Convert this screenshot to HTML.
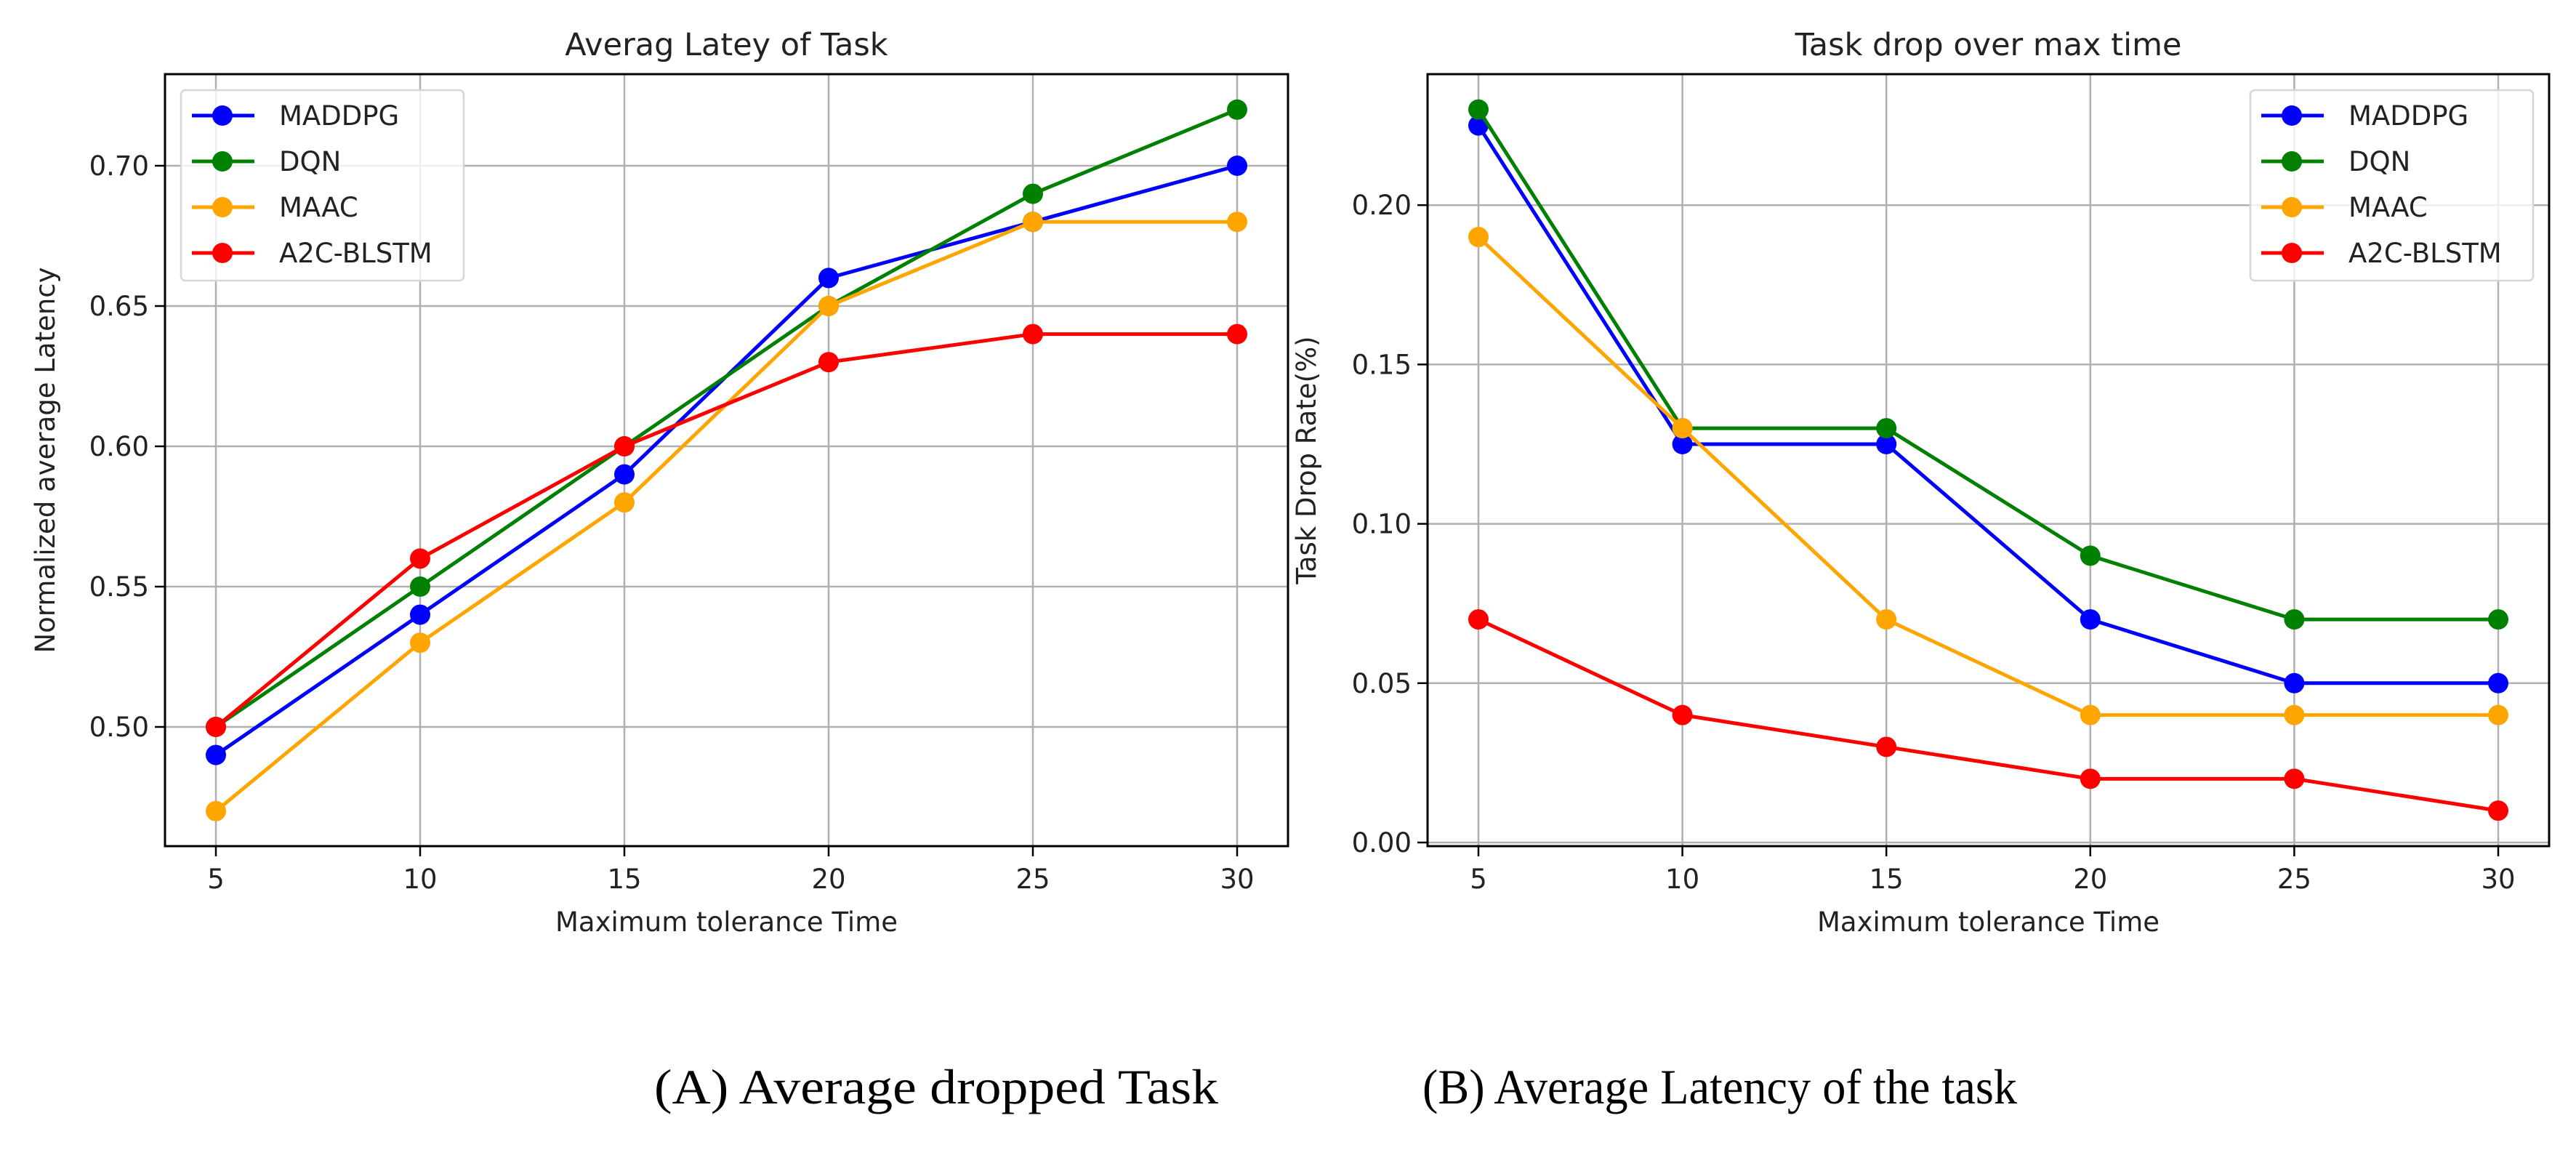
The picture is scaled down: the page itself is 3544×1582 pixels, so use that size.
<!DOCTYPE html>
<html><head><meta charset="utf-8"><style>
html,body{margin:0;padding:0;background:#fff;}
svg{display:block;}
text{font-family:"DejaVu Sans","Liberation Sans",sans-serif;fill:#222;}
</style></head><body>
<svg id="fig" width="3544" height="1582" viewBox="0 0 3544 1582" xmlns="http://www.w3.org/2000/svg">
<rect width="3544" height="1582" fill="#fff"/>
<text x="900" y="1518" style="font-family:'Liberation Serif',serif;font-size:68px;fill:#000" textLength="776" lengthAdjust="spacingAndGlyphs">(A) Average dropped Task</text>
<text x="1957" y="1518" style="font-family:'Liberation Serif',serif;font-size:68px;fill:#000" textLength="818" lengthAdjust="spacingAndGlyphs">(B) Average Latency of the task</text>
</svg>
<script>
const categories = [5, 10, 15, 20, 25, 30];
const seriesNames = ["MADDPG", "DQN", "MAAC", "A2C-BLSTM"];
const seriesColors = ["#0000ff", "#008000", "#ffa500", "#ff0000"];
const latencyMADDPG = [0.49, 0.54, 0.59, 0.66, 0.68, 0.70];
const latencyDQN = [0.50, 0.55, 0.60, 0.65, 0.69, 0.72];
const latencyMAAC = [0.47, 0.53, 0.58, 0.65, 0.68, 0.68];
const latencyA2C = [0.50, 0.56, 0.60, 0.63, 0.64, 0.64];
const dropMADDPG = [0.225, 0.125, 0.125, 0.07, 0.05, 0.05];
const dropDQN = [0.23, 0.13, 0.13, 0.09, 0.07, 0.07];
const dropMAAC = [0.19, 0.13, 0.07, 0.04, 0.04, 0.04];
const dropA2C = [0.07, 0.04, 0.03, 0.02, 0.02, 0.01];
const latencyTicks = ["0.50", "0.55", "0.60", "0.65", "0.70"];
const dropTicks = ["0.00", "0.05", "0.10", "0.15", "0.20"];

const NS = "http://www.w3.org/2000/svg";
const svg = document.getElementById("fig");
function mk(tag, attrs, parent) {
  const e = document.createElementNS(NS, tag);
  for (const k in attrs) e.setAttribute(k, attrs[k]);
  (parent || svg).appendChild(e);
  return e;
}

function drawChart(cfg) {
  const g = mk("g", {});
  
  
  const xs = v => cfg.x5 + (v - 5) * (cfg.x30 - cfg.x5) / 25;
  const ys = v => cfg.yRef + (cfg.vRef - v) * cfg.pxPerUnit;
  categories.forEach(c => {
    const l = mk("line", {x1: xs(c), x2: xs(c), y1: cfg.top, y2: cfg.bottom, stroke: "#b0b0b0", "stroke-width": 2.5}, g);
    
    
  });
  cfg.ticks.forEach(t => {
    const y = ys(parseFloat(t));
    const l = mk("line", {x1: cfg.left, x2: cfg.right, y1: y, y2: y, stroke: "#b0b0b0", "stroke-width": 2.5}, g);
    
    
    const tk = mk("line", {x1: cfg.left - 14, x2: cfg.left, y1: y, y2: y, stroke: "#000", "stroke-width": 2.5}, g);
    
    
    const tx = mk("text", {x: cfg.left - 22, y: y + 13, "text-anchor": "end", "font-size": 37}, g);
    
    
    tx.textContent = t;
  });
  categories.forEach(c => {
    const tk = mk("line", {x1: xs(c), x2: xs(c), y1: cfg.bottom, y2: cfg.bottom + 14, stroke: "#000", "stroke-width": 2.5}, g);
    
    
    const tx = mk("text", {x: xs(c), y: 1222, "text-anchor": "middle", "font-size": 37}, g);
    
    
    tx.textContent = c;
  });
  cfg.series.forEach((vals, i) => {
    const pts = vals.map((v, j) => xs(categories[j]) + "," + ys(v)).join(" ");
    const pl = mk("polyline", {points: pts, fill: "none", stroke: seriesColors[i], "stroke-width": 5, "stroke-linejoin": "round"}, g);
    
    
    vals.forEach((v, j) => {
      const c = mk("circle", {cx: xs(categories[j]), cy: ys(v), r: 14, fill: seriesColors[i]}, g);
      
      
    });
  });
  const fr = mk("rect", {x: cfg.left, y: cfg.top, width: cfg.right - cfg.left, height: cfg.bottom - cfg.top, fill: "none", stroke: "#000", "stroke-width": 3}, g);
  
  
  const lg = mk("g", {}, g);
  
  
  mk("rect", {x: cfg.legX, y: 124, width: 389, height: 262, rx: 6, fill: "rgba(255,255,255,0.8)", stroke: "#d6d6d6", "stroke-width": 2.5}, lg);
  seriesNames.forEach((n, i) => {
    const y = 159 + i * 63;
    const e = mk("g", {}, lg);
    
    
    mk("line", {x1: cfg.legX + 15, x2: cfg.legX + 101, y1: y, y2: y, stroke: seriesColors[i], "stroke-width": 5}, e);
    mk("circle", {cx: cfg.legX + 57, cy: y, r: 14, fill: seriesColors[i]}, e);
    const t = mk("text", {x: cfg.legX + 135, y: y + 13, "font-size": 37}, e);
    t.textContent = n;
  });
  const cx = (cfg.left + cfg.right) / 2;
  const tt = mk("text", {x: cx, y: 76, "text-anchor": "middle", "font-size": 43}, g);
  
  
  tt.textContent = cfg.title;
  const xl = mk("text", {x: cx, y: 1281, "text-anchor": "middle", "font-size": 37}, g);
  
  
  xl.textContent = "Maximum tolerance Time";
  const ymid = (cfg.top + cfg.bottom) / 2;
  const yl = mk("text", {x: cfg.ylabX, y: ymid, "text-anchor": "middle", "font-size": 37, transform: "rotate(-90 " + cfg.ylabX + " " + ymid + ")"}, g);
  
  
  yl.textContent = cfg.ylabel;
}

drawChart({name: "latency-chart", left: 227, right: 1772, top: 102, bottom: 1164, x5: 297, x30: 1702,
  yRef: 1000, vRef: 0.50, pxPerUnit: 193 / 0.05, ticks: latencyTicks,
  series: [latencyMADDPG, latencyDQN, latencyMAAC, latencyA2C], legX: 249,
  title: "Averag Latey of Task", ylabel: "Normalized average Latency", ylabX: 75});
drawChart({name: "drop-chart", left: 1964, right: 3507, top: 102, bottom: 1164, x5: 2034, x30: 3437,
  yRef: 1159, vRef: 0.00, pxPerUnit: 219.2 / 0.05, ticks: dropTicks,
  series: [dropMADDPG, dropDQN, dropMAAC, dropA2C], legX: 3096,
  title: "Task drop over max time", ylabel: "Task Drop Rate(%)", ylabX: 1810});
</script>
</body></html>
